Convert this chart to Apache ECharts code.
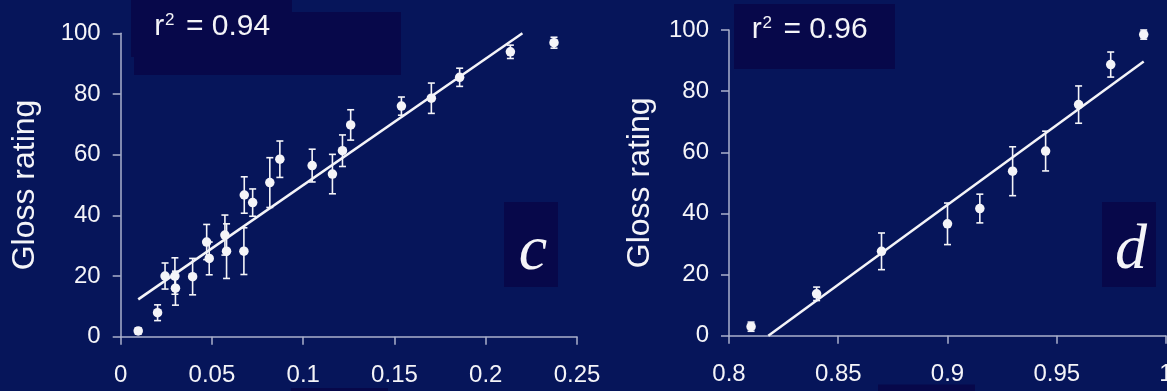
<!DOCTYPE html>
<html>
<head>
<meta charset="utf-8">
<script src="https://cdn.jsdelivr.net/npm/echarts@6/dist/echarts.min.js"></script>
<style>
html,body{margin:0;padding:0;background:#06155a;}
#chart{width:1167px;height:391px;}
</style>
</head>
<body>
<div id="chart"></div>
<script>
// ---- Panel c data ----
var cX   = [0.0096,0.0202,0.0243,0.0297,0.0300,0.0394,0.0471,0.0485,0.0571,0.0580,0.0675,0.0677,0.0723,0.0817,0.0872,0.1049,0.1160,0.1215,0.1260,0.1538,0.1702,0.1857,0.2135,0.2374];
var cY   = [1.9,7.9,20.0,20.0,16.0,19.8,31.2,25.8,33.5,28.2,28.2,46.7,44.2,50.8,58.5,56.4,53.6,61.3,69.8,76.0,78.6,85.5,93.9,96.9];
var cErr = [1.0,2.6,4.3,6.0,5.6,6.0,5.8,5.4,6.6,9.0,7.7,6.0,4.5,8.2,6.0,5.4,6.5,5.2,5.0,3.0,5.0,3.0,2.2,1.8];
var cFitX = [0.0096,0.2201];
var cFitY = [12.3,100.0];
var cR2 = '0.94';
var cXTicks = [0,0.25,0.05];

// ---- Panel d data ----
var dX   = [0.8101,0.8401,0.8698,0.9000,0.9148,0.9298,0.9449,0.9600,0.9747,0.9898];
var dY   = [2.95,13.7,27.6,36.6,41.6,53.8,60.4,75.6,88.7,98.5];
var dErr = [1.5,2.2,6.0,6.8,4.7,8.0,6.5,6.1,4.1,1.5];
var dFitX = [0.818,0.9898];
var dFitY = [0,89.7];
var dR2 = '0.96';
var dXTicks = [0.8,1.0,0.05];

var yTicks = [0,100,20];
var yName = 'Gloss rating';

var FG = '#f4f4f8';
var AX = '#aab0cc';
var BOX = '#07084a';
var FONT = '"Liberation Sans", Arial, sans-serif';

function zip(a,b){return a.map(function(v,i){return [v,b[i]];});}
function zip3(a,b,c){return a.map(function(v,i){return [v,b[i],c[i]];});}
function fmt(v){return String(+(+v).toFixed(2));}

function errSeries(xi, data){
  return {
    type:'custom', xAxisIndex:xi, yAxisIndex:xi, data:data, z:3,
    renderItem:function(params, api){
      var x=api.value(0), y=api.value(1), e=api.value(2);
      var top=api.coord([x,y+e]), bot=api.coord([x,y-e]);
      var w=3.5;
      var st={stroke:FG,lineWidth:1.6};
      return {type:'group',children:[
        {type:'line',shape:{x1:top[0],y1:top[1],x2:bot[0],y2:bot[1]},style:st},
        {type:'line',shape:{x1:top[0]-w,y1:top[1],x2:top[0]+w,y2:top[1]},style:st},
        {type:'line',shape:{x1:bot[0]-w,y1:bot[1],x2:bot[0]+w,y2:bot[1]},style:st}
      ]};
    }
  };
}

function xAxis(gi, t){
  return {type:'value', gridIndex:gi, min:t[0], max:t[1], interval:t[2],
    axisLine:{show:true,onZero:false,lineStyle:{color:AX,width:1.5}},
    axisTick:{show:true,inside:false,length:8,lineStyle:{color:AX,width:1.5}},
    axisLabel:{color:FG,fontSize:24,fontFamily:FONT,margin:27,formatter:fmt,showMaxLabel:true,showMinLabel:true},
    splitLine:{show:false}};
}
function yAxis(gi, gap){
  return {type:'value', gridIndex:gi, min:yTicks[0], max:yTicks[1], interval:yTicks[2],
    name:yName, nameLocation:'middle', nameGap:gap,
    nameTextStyle:{color:FG,fontSize:32,fontFamily:FONT},
    axisLine:{show:true,onZero:false,lineStyle:{color:AX,width:1.5}},
    axisTick:{show:true,inside:false,length:8,lineStyle:{color:AX,width:1.5}},
    axisLabel:{color:FG,fontSize:24,fontFamily:FONT,margin:20},
    splitLine:{show:false}};
}

function r2Texts(x, base, val){
  var fs=30, sfs=17;
  return [
    {type:'text',x:x,y:base-0.33*fs,z:100,style:{text:'r',fill:FG,font:fs+'px '+FONT,verticalAlign:'middle'}},
    {type:'text',x:x+10.7,y:base-10.5-0.33*sfs,z:100,style:{text:'2',fill:FG,font:sfs+'px '+FONT,verticalAlign:'middle'}},
    {type:'text',x:x+31.7,y:base-0.33*fs,z:100,style:{text:'= '+val,fill:FG,font:fs+'px '+FONT,verticalAlign:'middle'}}
  ];
}

var chart = echarts.init(document.getElementById('chart'), null, {renderer:'canvas'});
var graphics = [
  {type:'rect',shape:{x:131,y:0,width:161,height:57},style:{fill:BOX},z:90},
  {type:'rect',shape:{x:134,y:12,width:267,height:63},style:{fill:BOX},z:90},
  {type:'rect',shape:{x:734,y:4,width:161,height:65},style:{fill:BOX},z:90},
  {type:'rect',shape:{x:504,y:202,width:54,height:85},style:{fill:BOX},z:90},
  {type:'rect',shape:{x:1102,y:202,width:54,height:85},style:{fill:BOX},z:90},
  {type:'rect',shape:{x:291,y:388,width:97,height:5},style:{fill:BOX},z:90},
  {type:'rect',shape:{x:878,y:384.5,width:97,height:8},style:{fill:BOX},z:90},
  {type:'text',x:533,y:252,z:100,style:{text:'c',fill:FG,font:'italic 64px "Liberation Serif", "Times New Roman", serif',align:'center',verticalAlign:'middle'}},
  {type:'text',x:1131,y:251,z:100,style:{text:'d',fill:FG,font:'italic 64px "Liberation Serif", "Times New Roman", serif',align:'center',verticalAlign:'middle'}}
].concat(r2Texts(154.3,36.7,cR2)).concat(r2Texts(751.7,39.3,dR2));

chart.setOption({
  backgroundColor:'#06155a',
  animation:false,
  grid:[
    {left:120.7,top:33.3,width:456.3,height:303.4,outerBoundsMode:'none',containLabel:false},
    {left:729,top:30,width:437,height:305.7,outerBoundsMode:'none',containLabel:false}
  ],
  xAxis:[xAxis(0,cXTicks), xAxis(1,dXTicks)],
  yAxis:[yAxis(0,80), yAxis(1,73)],
  series:[
    errSeries(0, zip3(cX,cY,cErr)),
    {type:'scatter',xAxisIndex:0,yAxisIndex:0,data:zip(cX,cY),symbolSize:9.5,itemStyle:{color:FG,opacity:1},z:4},
    {type:'line',xAxisIndex:0,yAxisIndex:0,data:zip(cFitX,cFitY),symbol:'none',lineStyle:{color:FG,width:2.5},z:5},
    errSeries(1, zip3(dX,dY,dErr)),
    {type:'scatter',xAxisIndex:1,yAxisIndex:1,data:zip(dX,dY),symbolSize:9.5,itemStyle:{color:FG,opacity:1},z:4},
    {type:'line',xAxisIndex:1,yAxisIndex:1,data:zip(dFitX,dFitY),symbol:'none',lineStyle:{color:FG,width:2.5},z:5}
  ],
  graphic:graphics
});
</script>
</body>
</html>
